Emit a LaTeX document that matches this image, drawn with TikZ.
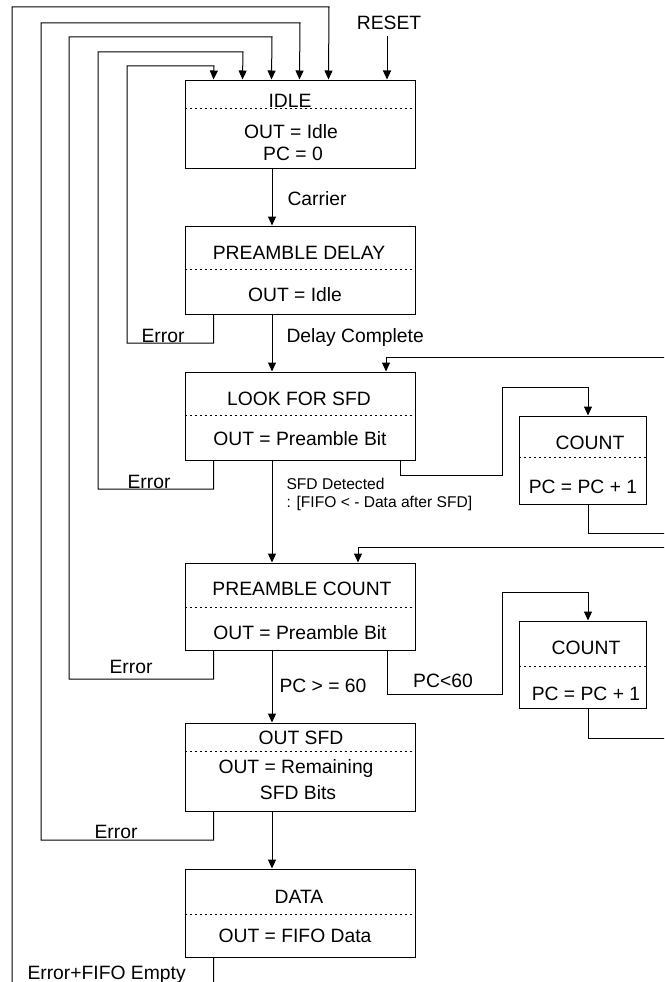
\documentclass[tikz,border=0pt]{standalone}
\usepackage{fontspec}
\setmainfont{Liberation Sans}
\usetikzlibrary{arrows.meta}
\begin{document}
\begin{tikzpicture}[x=1pt,y=-1pt,
  line width=1pt,
  box/.style={draw, line width=1pt, minimum width=230pt, minimum height=88pt, inner sep=0pt},
  cbox/.style={box, minimum width=127pt},
  txt/.style={font=\fontsize{19.3}{23}\selectfont, inner sep=0pt, anchor=base},
  lbl/.style={font=\fontsize{19.3}{23}\selectfont, inner sep=0pt, anchor=base west},
  small/.style={font=\fontsize{15.6}{18}\selectfont, inner sep=0pt, anchor=base west},
  sep/.style={line width=0.9pt, dash pattern=on 2pt off 3pt},
  arr/.style={-{Triangle[length=9pt,width=8pt]}},
  wire/.style={line width=1pt},
]
\useasboundingbox (0,0) rectangle (664,982);
\clip (0,0) rectangle (664,982);
\fill[white] (0,0) rectangle (664,982);

% boxes
\node[box] (idle) at (300,124) {};
\node[box] (pd) at (300,270) {};
\node[box] (lfs) at (300,416) {};
\node[box, minimum height=87pt] (pc) at (300,606.5) {};
\node[box] (osfd) at (300,767) {};
\node[box] (data) at (300,913) {};
\node[cbox] (c1) at (582.5,460) {};
\node[cbox, minimum height=87pt] (c2) at (583,664.5) {};

% dotted separators
\draw[sep] ([yshift=-29pt]idle.north west) -- ([yshift=-29pt]idle.north east);
\draw[sep] ([yshift=-44pt]pd.north west) -- ([yshift=-44pt]pd.north east);
\draw[sep] ([yshift=-44pt]lfs.north west) -- ([yshift=-44pt]lfs.north east);
\draw[sep] ([yshift=-45pt]pc.north west) -- ([yshift=-45pt]pc.north east);
\draw[sep] ([yshift=-29pt]osfd.north west) -- ([yshift=-29pt]osfd.north east);
\draw[sep] ([yshift=-46pt]data.north west) -- ([yshift=-46pt]data.north east);
\draw[sep] ([yshift=-42pt]c1.north west) -- ([yshift=-42pt]c1.north east);
\draw[sep] ([yshift=-46pt]c2.north west) -- ([yshift=-46pt]c2.north east);

% box texts
\node[txt] (idleT) at (290,107) {IDLE};
\node[txt] (idleO) at (291,138) {OUT = Idle};
\node[txt] (idleP) at (293,160) {PC = 0};
\node[txt] (pdT) at (299,259) {PREAMBLE DELAY};
\node[txt] (pdO) at (295,301) {OUT = Idle};
\node[txt] (lfsT) at (299,405) {LOOK FOR SFD};
\node[txt] (lfsO) at (300,445) {OUT = Preamble Bit};
\node[txt] (pcT) at (302,595) {PREAMBLE COUNT};
\node[txt] (pcO) at (300,639) {OUT = Preamble Bit};
\node[txt] (osT) at (301,744) {OUT SFD};
\node[txt] (osO) at (296,773) {OUT = Remaining};
\node[txt] (osB) at (298,799) {SFD Bits};
\node[txt] (dT) at (299,903) {DATA};
\node[txt] (dO) at (295,942) {OUT = FIFO Data};
\node[txt] (c1T) at (590,449) {COUNT};
\node[txt] (c1O) at (583,493) {PC = PC + 1};
\node[txt] (c2T) at (586,654) {COUNT};
\node[txt] (c2O) at (586,700) {PC = PC + 1};

% labels
\node[txt] (resetT) at (389,30) {RESET};
\node[lbl] (carrier) at (287,205) {Carrier};
\node[lbl] (delay) at (286,342) {Delay Complete};
\node[txt] (err1) at (163,342) {Error};
\node[small] (sfd1) at (286,489) {SFD Detected};
\node[small] (sfd2) at (286,507) {: [FIFO < - Data after SFD]};
\node[txt] (err2) at (149,488) {Error};
\node[txt] (err3) at (131,673) {Error};
\node[lbl] (pcge) at (279,692) {PC > = 60};
\node[txt] (pclt) at (443,687) {PC<60};
\node[txt] (err4) at (116,838) {Error};
\node[lbl] (errff) at (27,979) {Error+FIFO Empty};

% main flow
\draw[arr] ([xshift=-28pt]idle.south) -- ([xshift=-28pt]pd.north);
\draw[arr] ([xshift=-28pt]pd.south) -- ([xshift=-28pt]lfs.north);
\draw[arr] ([xshift=-28pt]lfs.south) -- ([xshift=-28pt]pc.north);
\draw[arr] ([xshift=-28pt]pc.south) -- ([xshift=-28pt]osfd.north);
\draw[arr] ([xshift=-28pt]osfd.south) -- ([xshift=-28pt]data.north);

% reset
\coordinate (rarr) at (387,36);
\draw[arr] (rarr) -- (rarr |- idle.north);

% error returns to IDLE
\draw[arr] ([xshift=29pt]pd.south west) |- (127,343) |- (214,66) -- ([xshift=29pt]idle.north west);
\draw[arr] ([xshift=29pt]lfs.south west) |- (98,489) |- (243,52) -- ([xshift=58pt]idle.north west);
\draw[arr] ([xshift=29pt]pc.south west) |- (69,679) |- (272,37) -- ([xshift=87pt]idle.north west);
\draw[arr] ([xshift=29pt]osfd.south west) |- (41,840) |- (300,23) -- ([xshift=115pt]idle.north west);
\draw[arr] ([xshift=29pt]data.south west) |- (12,995) |- (329,7) -- ([xshift=144pt]idle.north west);

% count loops
\draw[arr] ([xshift=-15pt]lfs.south east) |- (502,475) |- (588,387) -- ([xshift=5.5pt]c1.north);
\draw[arr] ([xshift=5.5pt]c1.south) |- (680,533) |- (386,357) -- ([xshift=86pt]lfs.north);
\draw[arr] ([xshift=87pt]pc.south) |- (502,694) |- (588,592) -- ([xshift=5pt]c2.north);
\draw[arr] ([xshift=5pt]c2.south) |- (684,738) |- (358,547) -- ([xshift=58pt]pc.north);
\end{tikzpicture}
\end{document}
